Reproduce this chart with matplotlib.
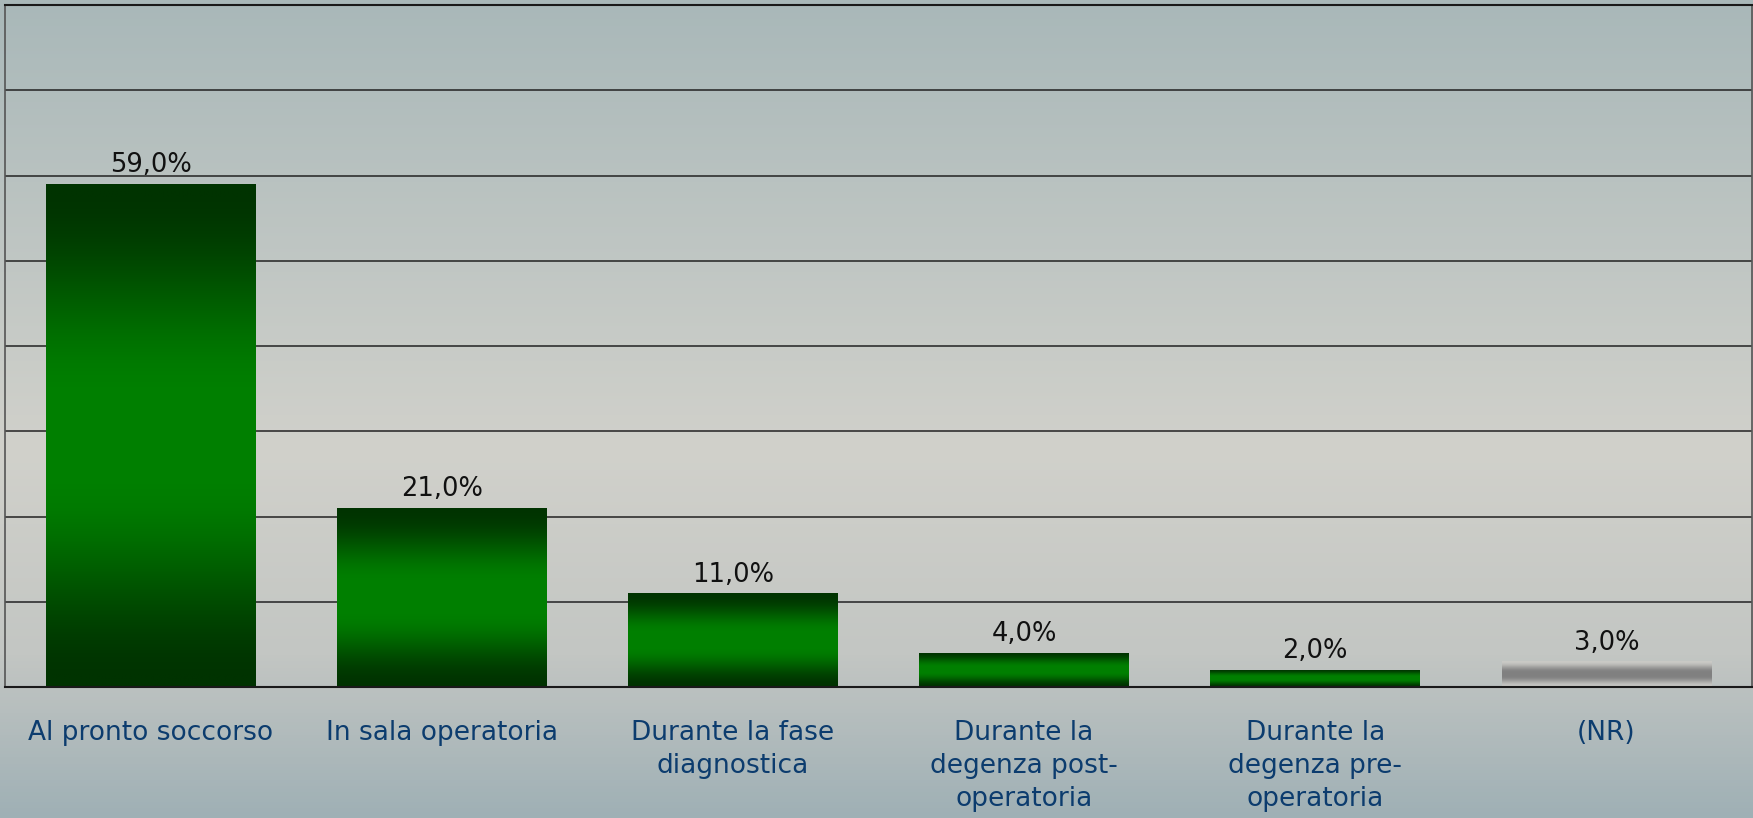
import numpy as np
import matplotlib
matplotlib.use("Agg")
import matplotlib.pyplot as plt
from matplotlib.colors import LinearSegmentedColormap

# data
categories = ["Al pronto soccorso", "In sala operatoria", "Durante la fase\ndiagnostica",
              "Durante la\ndegenza post-\noperatoria", "Durante la\ndegenza pre-\noperatoria", "(NR)"]
values = [59.0, 21.0, 11.0, 4.0, 2.0, 3.0]
is_nr = [False, False, False, False, False, True]

fig = plt.figure(figsize=(17.53, 8.18), dpi=100)

# background gradient for the whole figure
bg_cmap = LinearSegmentedColormap.from_list(
    "bg", [(0.0, "#a9b8b9"), (0.55, "#d1d1cb"), (0.8, "#c3c6c3"), (1.0, "#9fb0b5")])
bg = fig.add_axes([0, 0, 1, 1], zorder=-1)
bg.imshow(np.linspace(0, 1, 256).reshape(-1, 1), cmap=bg_cmap, aspect="auto",
          extent=[0, 1, 0, 1])
bg.axis("off")

ax = fig.add_axes([5 / 1753, 1 - 687 / 818, 1747 / 1753, 682 / 818])
ax.patch.set_alpha(0)

green_cmap = LinearSegmentedColormap.from_list(
    "gr", [(0.0, "#003300"), (0.5, "#008000"), (1.0, "#003300")])
grey_cmap = LinearSegmentedColormap.from_list(
    "gy", [(0.0, "#cacac6"), (0.5, "#808080"), (1.0, "#cacac6")])

t = np.linspace(0, 1, 256)
prof = np.clip(1.15 * (1 - np.abs(2 * t - 1)), 0, 1)
prof = 0.5 - 0.5 * np.cos(np.pi * prof)  # smooth the ramp
grad = (0.5 * prof).reshape(-1, 1)  # 0 -> edge colour, 0.5 -> centre colour

x = np.arange(len(categories))
bars = ax.bar(x, values, width=0.72, color="none", zorder=2)
for b, nr in zip(bars, is_nr):
    x0, y0 = b.get_x(), b.get_y()
    im = ax.imshow(grad, cmap=grey_cmap if nr else green_cmap, vmin=0, vmax=1,
                   aspect="auto", extent=[x0, x0 + b.get_width(), y0, y0 + b.get_height()],
                   zorder=2, interpolation="bilinear")
    im.set_clip_path(b)

for xi, v in zip(x, values):
    ax.annotate(f"{v:.1f}%".replace(".", ","), (xi, v), xytext=(0, 4),
                textcoords="offset points", ha="center", va="bottom",
                fontsize=18.5, color="#111111")

ax.set_xlim(-0.5, len(categories) - 0.5)
ax.set_ylim(0, 80)
ax.set_yticks(np.arange(0, 81, 10))
ax.set_yticklabels([])
ax.yaxis.grid(True, color="#222222", linewidth=1.1, zorder=0)
ax.set_axisbelow(True)
ax.tick_params(axis="both", length=0)
ax.set_xticks(x)
ax.set_xticklabels(categories, fontsize=19, color="#0c3c6e", linespacing=1.35)
ax.tick_params(axis="x", pad=24)

for s in ["left", "right"]:
    ax.spines[s].set_color("#555555")
    ax.spines[s].set_linewidth(1.2)
for s in ["top", "bottom"]:
    ax.spines[s].set_color("#1a1a1a")
    ax.spines[s].set_linewidth(1.5)

fig.savefig("out.png", dpi=100)
